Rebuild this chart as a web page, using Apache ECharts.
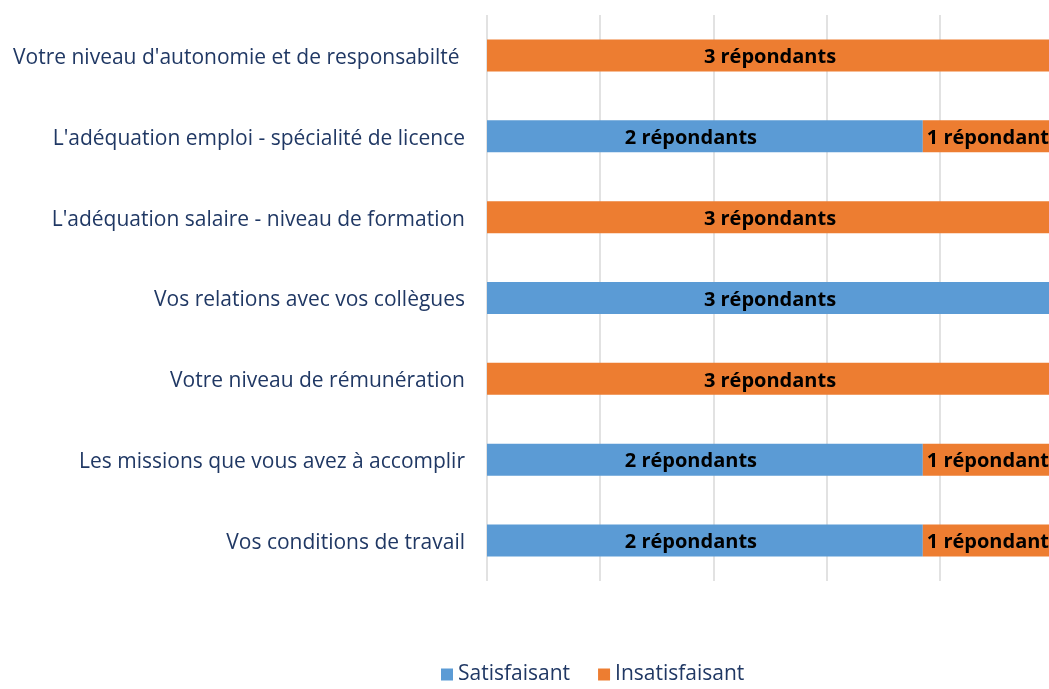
<!DOCTYPE html>
<html>
<head>
<meta charset="utf-8">
<script src="https://cdn.jsdelivr.net/npm/echarts@6/dist/echarts.min.js"></script>
<style>
html,body{margin:0;padding:0;background:#fff;}
#chart{width:1049px;height:689px;}
</style>
</head>
<body>
<div id="chart"></div>
<script>
// Categories, listed bottom to top (as drawn by the category axis)
const categories = [
  "Vos conditions de travail",
  "Les missions que vous avez à accomplir",
  "Votre niveau de rémunération",
  "Vos relations avec vos collègues",
  "L'adéquation salaire - niveau de formation",
  "L'adéquation emploi - spécialité de licence",
  "Votre niveau d'autonomie et de responsabilté "
];
// Bar lengths (share of the axis, %)
const satisfaisantShare   = [77, 77, 0, 100, 0, 77, 0];
const insatisfaisantShare = [23, 23, 100, 0, 100, 23, 100];
// Respondent counts shown in the labels
const satisfaisantCount   = [2, 2, 0, 3, 0, 2, 0];
const insatisfaisantCount = [1, 1, 3, 0, 3, 1, 3];
const seriesNames = ["Satisfaisant", "Insatisfaisant"];
const xTicks = [0, 20, 40, 60, 80, 100];

const FONT = "Open Sans";
function labelText(n){ return n === 1 ? "1 répondant" : n + " répondants"; }

const chart = echarts.init(document.getElementById('chart'), null, {renderer:'canvas'});
function makeSeries(name, shares, counts, otherCounts, color, partialShift){
  return {
    name: name,
    type: 'bar',
    stack: 'total',
    barWidth: 32,
    data: shares.map((v,i)=>{
      const d = {value: v, count: counts[i]};
      if (partialShift && counts[i] > 0 && otherCounts[i] > 0) {
        d.label = {offset: [partialShift, 2]};
      }
      return d;
    }),
    itemStyle: {color: color},
    label: {
      show: true,
      position: 'inside',
      offset: [0, 2],
      formatter: p => p.data.count > 0 ? labelText(p.data.count) : '',
      color: '#000',
      fontFamily: FONT,
      fontWeight: 'bold',
      fontSize: 20
    },
    emphasis: {disabled: true}
  };
}
chart.setOption({
  animation: false,
  grid: {left: 487, width: 566, top: 15, bottom: 108, containLabel: false, outerBoundsMode: 'none'},
  legend: {
    top: 664,
    left: 441,
    padding: 0,
    itemWidth: 12,
    itemHeight: 12,
    itemGap: 28,
    icon: 'rect',
    textStyle: {fontFamily: FONT, fontSize: 21, color: '#203864'},
    data: seriesNames
  },
  xAxis: {
    type: 'value',
    min: xTicks[0],
    max: xTicks[xTicks.length-1],
    interval: xTicks[1]-xTicks[0],
    axisLabel: {show: false},
    axisLine: {show: false},
    axisTick: {show: false},
    splitLine: {show: true, lineStyle: {color: '#d9d9d9', width: 1.5}}
  },
  yAxis: {
    type: 'category',
    data: categories,
    axisLine: {show: false},
    axisTick: {show: false},
    axisLabel: {
      margin: 22,
      formatter: v => '{c|' + v + '}',
      rich: {c: {fontFamily: FONT, fontSize: 21, color: '#203864', padding: [5, 0, 0, 0]}}
    }
  },
  series: [
    makeSeries(seriesNames[0], satisfaisantShare, satisfaisantCount, insatisfaisantCount, '#5B9BD5', -14),
    makeSeries(seriesNames[1], insatisfaisantShare, insatisfaisantCount, satisfaisantCount, '#ED7D31', 0)
  ]
});
</script>
</body>
</html>
